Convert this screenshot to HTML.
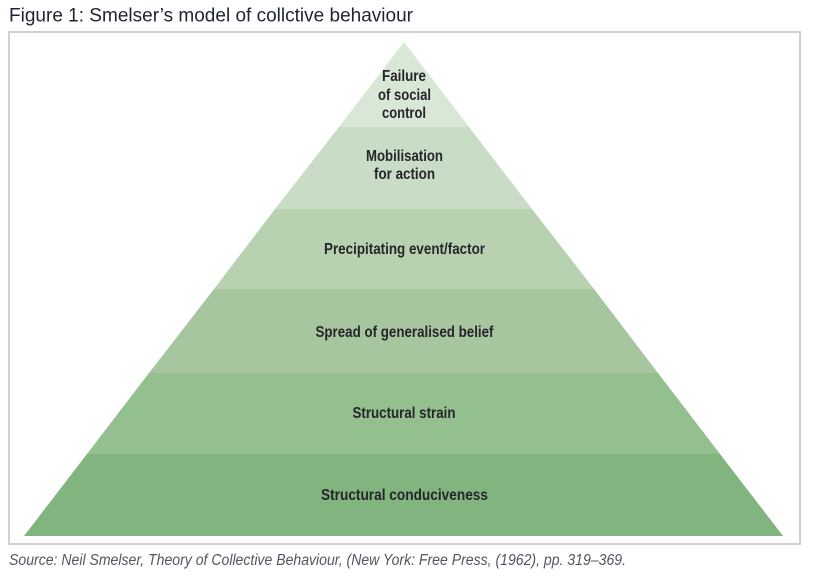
<!DOCTYPE html>
<html>
<head>
<meta charset="utf-8">
<style>
html,body{margin:0;padding:0;background:#fff;width:816px;height:580px;overflow:hidden}
svg{display:block}
text{font-family:"Liberation Sans",sans-serif}
.l{font-size:16px;font-weight:700;fill:#26262a;text-anchor:middle}
</style>
</head>
<body>
<svg width="816" height="580" viewBox="0 0 816 580" xmlns="http://www.w3.org/2000/svg">
<rect width="816" height="580" fill="#fff"/>
<text x="9" y="21.500" font-size="19.500" fill="#1f2430" textLength="404" lengthAdjust="spacingAndGlyphs">Figure 1: Smelser’s model of collctive behaviour</text>
<rect x="9" y="32" width="791" height="512" fill="#fff" stroke="#d0d0d0" stroke-width="2"/>

<polygon points="404,42 469,127 339,127" fill="#d9e7d7"/>
<polygon points="339,127 469,127 532,209 275,209" fill="#c9dcc5"/>
<polygon points="275,209 532,209 594,289 214,289" fill="#b8d2b1"/>
<polygon points="214,289 594,289 658,373 149,373" fill="#a7c6a0"/>
<polygon points="149,373 658,373 720,454 87,454" fill="#94bf8e"/>
<polygon points="87,454 720,454 783,536 24,536" fill="#82b47f"/>

<text class="l" x="404" y="81" textLength="44" lengthAdjust="spacingAndGlyphs">Failure</text>
<text class="l" x="404.500" y="100" textLength="53" lengthAdjust="spacingAndGlyphs">of social</text>
<text class="l" x="404" y="118" textLength="44" lengthAdjust="spacingAndGlyphs">control</text>
<text class="l" x="404.500" y="161" textLength="77" lengthAdjust="spacingAndGlyphs">Mobilisation</text>
<text class="l" x="404.500" y="179" textLength="61" lengthAdjust="spacingAndGlyphs">for action</text>
<text class="l" x="404.500" y="254" textLength="161" lengthAdjust="spacingAndGlyphs">Precipitating event/factor</text>
<text class="l" x="404.500" y="337" textLength="178" lengthAdjust="spacingAndGlyphs">Spread of generalised belief</text>
<text class="l" x="404" y="418" textLength="103" lengthAdjust="spacingAndGlyphs">Structural strain</text>
<text class="l" x="404.500" y="500" textLength="167" lengthAdjust="spacingAndGlyphs">Structural conduciveness</text>

<text x="9" y="565" font-size="15.500" font-style="italic" fill="#55555f" textLength="617" lengthAdjust="spacingAndGlyphs">Source: Neil Smelser, Theory of Collective Behaviour, (New York: Free Press, (1962), pp. 319–369.</text>
</svg>
</body>
</html>
